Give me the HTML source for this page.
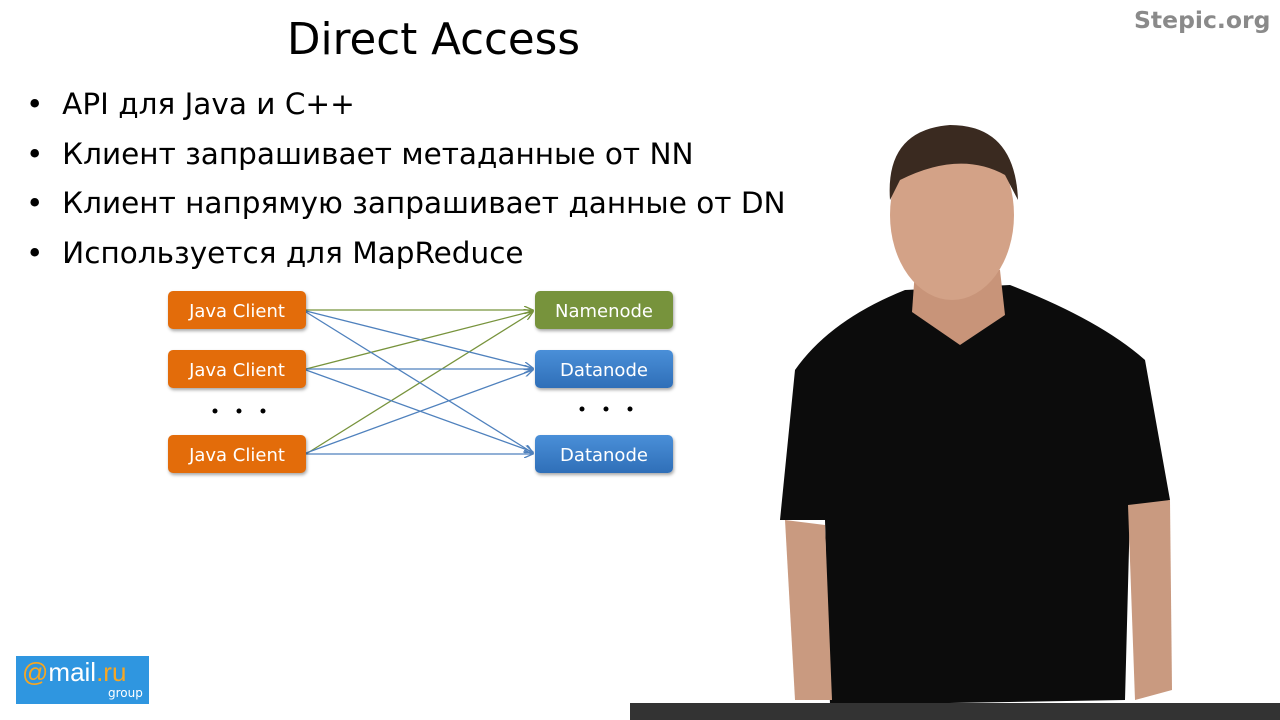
<!DOCTYPE html>
<html><head><meta charset="utf-8"><style>
body{margin:0;width:1280px;height:720px;background:#fff;position:relative;overflow:hidden;font-family:"DejaVu Sans","Liberation Sans",sans-serif}
.t{position:absolute;color:#000}
.b{position:absolute;width:138px;height:38px;border-radius:5px;color:#fff;font-size:18px;line-height:41px;text-align:center;box-shadow:1px 2px 3px rgba(0,0,0,.35)}
.o{background:#e36c0a}.g{background:#77933c}.bl{background:linear-gradient(#4a8fd8,#2f6fb8)}
</style></head><body>
<div class="t" style="left:287px;top:15px;font-size:43.5px">Direct Access</div>
<div class="t" style="left:1134px;top:6px;font-size:23.5px;font-weight:bold;color:#8a8a8a">Stepic.org</div>
<div class="t" style="left:26px;top:80px;font-size:29.5px;line-height:49.5px">
<div>•&nbsp;&nbsp;API для Java и C++</div>
<div>•&nbsp;&nbsp;Клиент запрашивает метаданные от NN</div>
<div>•&nbsp;&nbsp;Клиент напрямую запрашивает данные от DN</div>
<div>•&nbsp;&nbsp;Используется для MapReduce</div>
</div>
<svg style="position:absolute;left:0;top:0" width="1280" height="720">
<defs>
<marker id="ag" markerWidth="10" markerHeight="8" refX="9" refY="4" orient="auto" markerUnits="userSpaceOnUse"><path d="M0 0 L9 4 L0 8" fill="none" stroke="#77933c" stroke-width="1.3"/></marker>
<marker id="ab" markerWidth="10" markerHeight="8" refX="9" refY="4" orient="auto" markerUnits="userSpaceOnUse"><path d="M0 0 L9 4 L0 8" fill="none" stroke="#4f81bd" stroke-width="1.3"/></marker>
</defs>
<g stroke-width="1.3" fill="none">
<g stroke="#77933c" marker-end="url(#ag)"><line x1="306" y1="310" x2="533" y2="310"/><line x1="306" y1="369" x2="533" y2="311"/><line x1="306" y1="454" x2="533" y2="312"/></g>
<g stroke="#4f81bd" marker-end="url(#ab)"><line x1="306" y1="311" x2="533" y2="368"/><line x1="306" y1="312" x2="533" y2="453"/><line x1="306" y1="369" x2="533" y2="369"/><line x1="306" y1="370" x2="533" y2="452"/><line x1="306" y1="453" x2="533" y2="370"/><line x1="306" y1="454" x2="533" y2="454"/></g>
</g>
<g fill="#000"><circle cx="215" cy="411" r="2.5"/><circle cx="239" cy="411" r="2.5"/><circle cx="263" cy="411" r="2.5"/><circle cx="582" cy="409" r="2.5"/><circle cx="606" cy="409" r="2.5"/><circle cx="630" cy="409" r="2.5"/></g>
<path d="M780 520 L795 370 Q830 320 905 290 L1010 285 Q1100 320 1145 360 L1170 500 L1130 510 L1125 700 L830 705 L825 520 Z" fill="#0c0c0c"/>
<path d="M785 520 L825 525 L832 700 L795 700 Z" fill="#c99a80"/>
<path d="M1128 505 L1170 500 L1172 690 L1135 700 Z" fill="#c99a80"/>
<path d="M915 270 L1000 270 L1005 315 L960 345 L912 312 Z" fill="#c89479"/>
<ellipse cx="952" cy="215" rx="62" ry="85" fill="#d3a287"/>
<path d="M890 200 Q885 130 950 125 Q1015 125 1018 200 L1005 175 Q960 150 900 180 Z" fill="#3a2a20"/>
<rect x="630" y="703" width="650" height="17" fill="#333"/>
<rect x="16" y="656" width="133" height="48" fill="#2f96e0"/>
</svg>
<div class="t" style="left:22px;top:657px;font-size:26px;color:#fff;font-family:'Liberation Sans',sans-serif"><span style="color:#f6a623">@</span>mail<span style="color:#f6a623">.ru</span></div>
<div class="t" style="left:108px;top:686px;font-size:12px;color:#fff">group</div>
<div class="b o" style="left:168px;top:291px">Java Client</div>
<div class="b o" style="left:168px;top:350px">Java Client</div>
<div class="b o" style="left:168px;top:435px">Java Client</div>
<div class="b g" style="left:535px;top:291px">Namenode</div>
<div class="b bl" style="left:535px;top:350px">Datanode</div>
<div class="b bl" style="left:535px;top:435px">Datanode</div>
</body></html>
